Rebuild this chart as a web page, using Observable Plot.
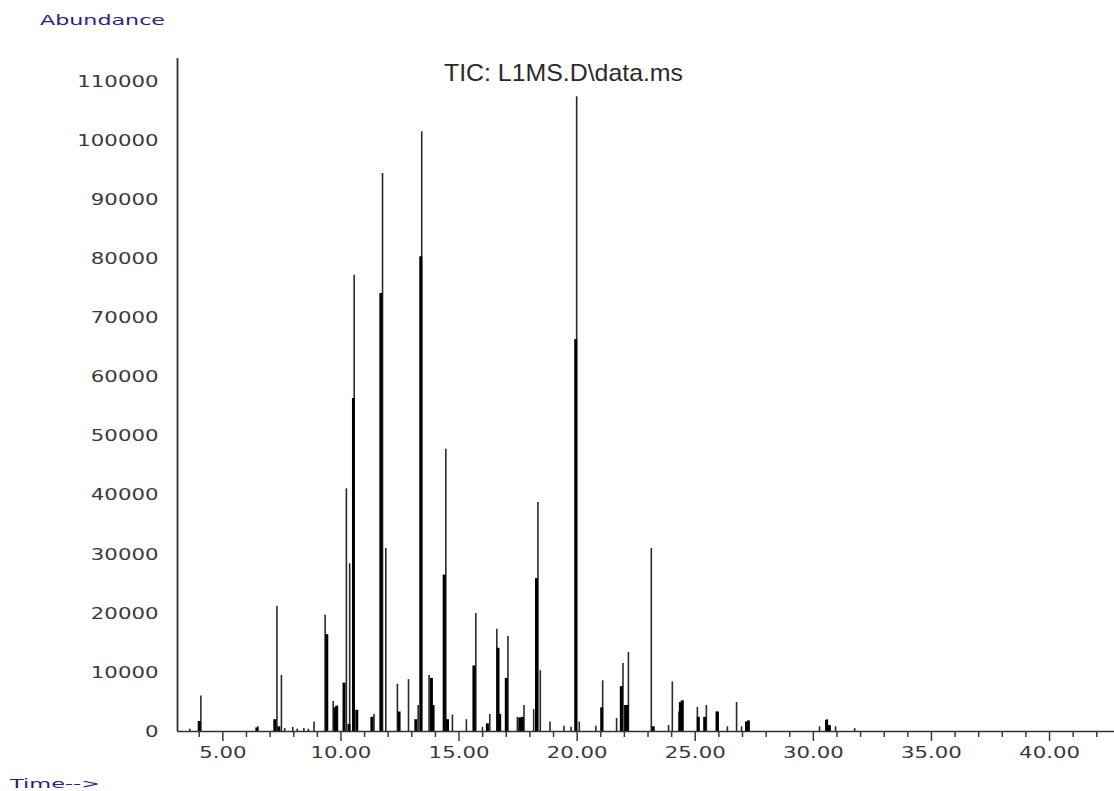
<!DOCTYPE html>
<html><head><meta charset="utf-8">
<script src="https://cdn.jsdelivr.net/npm/d3@7"></script>
<script src="https://cdn.jsdelivr.net/npm/@observablehq/plot@0.6"></script>
<style>
html,body{margin:0;padding:0;background:#fff;}
#wrap{position:relative;width:1114px;height:791px;overflow:hidden;background:#fff;}
#wrap svg{position:absolute;left:0;top:0;}
.lbl{position:absolute;white-space:nowrap;transform-origin:0 50%;line-height:1;z-index:2;}
#abund{left:40px;top:12px;font:14px "DejaVu Sans",sans-serif;color:#24248e;}
#title{left:444px;top:59px;font:24px "Liberation Sans",Arial,sans-serif;color:#2a2a2a;}
#time{left:10px;top:776px;font:13px "DejaVu Sans",sans-serif;color:#24248e;}
</style></head><body>
<div id="wrap">
<div id="abund" class="lbl">Abundance</div>
<div id="title" class="lbl">TIC: L1MS.D\data.ms</div>
<div id="time" class="lbl">Time--&gt;</div>
</div>
<script>
// ---- data ----
const timeDomain = [3.08, 42.75];
const abundanceMax = 114000;
const yTicks = [0, 10000, 20000, 30000, 40000, 50000, 60000, 70000, 80000, 90000, 100000, 110000];
const majorTimeTicks = [5, 10, 15, 20, 25, 30, 35, 40];
const minorTimeTicks = [4, 6, 7, 8, 9, 11, 12, 13, 14, 16, 17, 18, 19, 21, 22, 23, 24, 26, 27, 28, 29, 31, 32, 33, 34, 36, 37, 38, 39, 41, 42];

// thin peak traces (full peak apex)
const peakTime = [3.60, 4.07, 6.48, 7.29, 7.48, 7.62, 7.96, 8.15, 8.43, 8.62, 8.86, 9.33, 9.67, 10.23, 10.37, 10.56, 11.40, 11.76, 11.90, 12.39, 12.86, 13.27, 13.42, 13.73, 14.44, 14.72, 15.31, 15.71, 15.99, 16.30, 16.60, 17.07, 17.47, 17.75, 18.16, 18.34, 18.44, 18.85, 19.44, 19.74, 19.98, 20.09, 20.79, 21.08, 21.67, 21.94, 22.17, 23.14, 23.87, 24.03, 24.31, 25.09, 25.47, 25.89, 26.36, 26.75, 26.96, 30.26, 30.59, 30.94, 31.75];
const peakAbundance = [400, 6000, 800, 21200, 9500, 500, 700, 400, 500, 400, 1600, 19700, 5100, 41100, 28400, 77300, 2900, 94500, 31000, 8000, 8800, 4400, 101600, 9500, 47800, 2800, 2000, 20000, 700, 2900, 17300, 16100, 2400, 4400, 3700, 38800, 10300, 1600, 900, 700, 107500, 1600, 900, 8600, 2200, 11500, 13400, 31000, 1000, 8400, 3300, 4100, 4400, 3300, 800, 4900, 800, 800, 2000, 800, 500];

// dense (solid black) parts of the peaks
const coreTime = [4.00, 6.44, 7.20, 7.37, 9.40, 9.75, 9.82, 10.13, 10.34, 10.53, 10.67, 11.31, 11.69, 12.46, 13.17, 13.38, 13.83, 13.90, 14.37, 14.51, 15.63, 16.20, 16.65, 16.72, 17.00, 17.57, 17.68, 18.28, 19.94, 21.04, 21.87, 22.05, 22.12, 23.22, 24.37, 24.45, 25.13, 25.40, 25.94, 27.17, 27.25, 30.56, 30.68];
const coreAbundance = [1700, 600, 2000, 800, 16400, 4000, 4300, 8200, 1200, 56400, 3600, 2400, 74200, 3300, 2000, 80400, 9000, 4400, 26500, 2000, 11100, 1300, 14100, 2900, 9000, 2300, 2400, 25900, 66400, 4000, 7600, 4400, 4400, 800, 4900, 5200, 2400, 2400, 3300, 1600, 1800, 1900, 1000];

const peaks = peakTime.map((t, i) => ({t, a: peakAbundance[i]}));
const cores = coreTime.map((t, i) => ({t, a: coreAbundance[i]}));

const chart = Plot.plot({
  width: 1114,
  height: 791,
  marginLeft: 177,
  marginRight: 0,
  marginTop: 58,
  marginBottom: 60,
  style: {fontFamily: "DejaVu Sans, sans-serif", fontSize: "16px", background: "white", overflow: "visible"},
  x: {domain: timeDomain},
  y: {domain: [0, abundanceMax]},
  marks: [
    Plot.ruleX(peaks, {x: "t", y1: 0, y2: "a", stroke: "#2a2a2a", strokeWidth: 1.6}),
    Plot.ruleX(cores, {x: "t", y1: 0, y2: "a", stroke: "#000", strokeWidth: 3}),
    Plot.ruleY([0], {stroke: "#333", strokeWidth: 1.6}),
    Plot.ruleX([timeDomain[0]], {stroke: "#333", strokeWidth: 1.8}),
    Plot.axisY({ticks: yTicks, tickSize: 0, tickPadding: 19, tickFormat: d3.format("d"), color: "#3a3a3a", label: null}),
    Plot.axisX({ticks: majorTimeTicks, tickSize: 10, tickPadding: 5, tickFormat: d => d.toFixed(2), color: "#3a3a3a", strokeWidth: 1.5, label: null}),
    Plot.axisX({ticks: minorTimeTicks, tickSize: 6, tickFormat: () => "", color: "#3a3a3a", strokeWidth: 1.5, label: null})
  ]
});
const wrap = document.getElementById("wrap");
wrap.insertBefore(chart, wrap.firstChild);

// widen tick label glyphs like the instrument's display font
d3.select(chart).selectAll('g[aria-label="y-axis tick label"] text, g[aria-label="x-axis tick label"] text').each(function() {
  const x = +(this.getAttribute("x") || 0);
  const tr = this.getAttribute("transform") || "";
  this.setAttribute("transform", `${tr} translate(${x},0) scale(1.33,1) translate(${-x},0)`);
});

// stretch the html labels to the reference widths
function fit(id, w) {
  const el = document.getElementById(id);
  const r = el.getBoundingClientRect().width;
  el.style.transform = `scaleX(${w / r})`;
}
fit("abund", 125);
fit("title", 239);
fit("time", 90);
</script>
</body></html>
